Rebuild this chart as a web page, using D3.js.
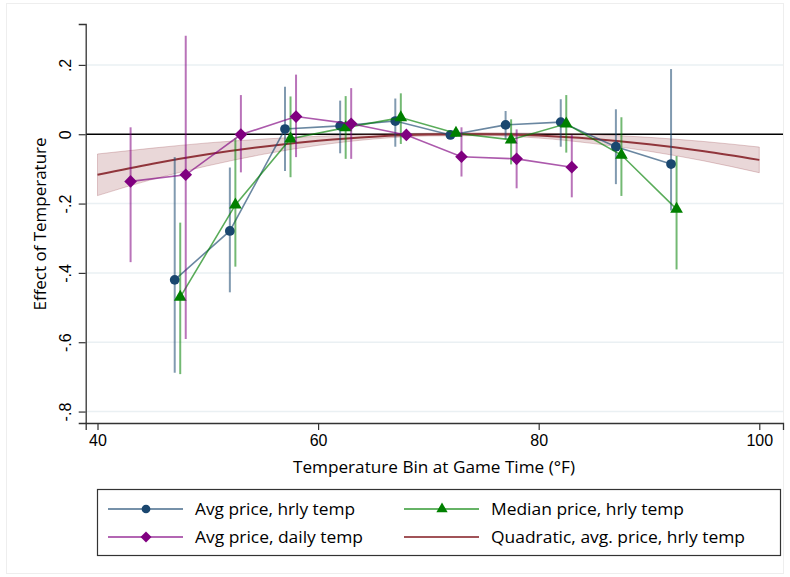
<!DOCTYPE html>
<html>
<head>
<meta charset="utf-8">
<script src="https://cdn.jsdelivr.net/npm/d3@7"></script>
<style>
  body { margin: 0; background: #fff; }
  svg { display: block; font-family: "Open Sans", Lato, sans-serif; }
</style>
</head>
<body>
<svg id="chart" width="790" height="577"></svg>
<script>
// temperature bins (deg F), each series is offset a little in x
const avgHrlyX = [47, 52, 57, 62, 67, 72, 77, 82, 87, 92];
const avgHrly = [-0.420, -0.279, 0.015, 0.024, 0.038, -0.002, 0.027, 0.035, -0.036, -0.086];
const avgHrlyLo = [-0.688, -0.456, -0.106, -0.055, -0.036, -0.012, -0.014, -0.036, -0.144, -0.220];
const avgHrlyHi = [-0.066, -0.096, 0.137, 0.097, 0.103, 0.008, 0.067, 0.101, 0.072, 0.188];

const medHrlyX = [47.5, 52.5, 57.5, 62.5, 67.5, 72.5, 77.5, 82.5, 87.5, 92.5];
const medHrly = [-0.470, -0.204, -0.013, 0.019, 0.048, 0.003, -0.016, 0.030, -0.060, -0.216];
const medHrlyLo = [-0.692, -0.382, -0.124, -0.071, -0.028, -0.007, -0.087, -0.053, -0.178, -0.390];
const medHrlyHi = [-0.255, -0.012, 0.109, 0.110, 0.118, 0.013, 0.043, 0.113, 0.049, -0.063];

const avgDailyX = [43, 48, 53, 58, 63, 68, 73, 78, 83];
const avgDaily = [-0.136, -0.117, -0.001, 0.051, 0.030, -0.002, -0.065, -0.071, -0.095];
const avgDailyLo = [-0.369, -0.591, -0.110, -0.066, -0.071, -0.010, -0.122, -0.156, -0.182];
const avgDailyHi = [0.020, 0.284, 0.113, 0.172, 0.133, 0.006, 0.020, 0.014, -0.002];

const quadX = [40, 45, 50, 55, 60, 65, 70, 75, 80, 85, 90, 95, 100];
const quadY = [-0.117, -0.085, -0.058, -0.036, -0.019, -0.007, -0.001, 0.000, -0.004, -0.014, -0.029, -0.049, -0.074];
const quadLo = [-0.177, -0.130, -0.091, -0.058, -0.032, -0.014, -0.005, -0.004, -0.011, -0.027, -0.049, -0.077, -0.111];
const quadHi = [-0.057, -0.040, -0.025, -0.014, -0.006, 0.000, 0.003, 0.004, 0.003, -0.001, -0.009, -0.021, -0.037];

const xTicks = [40, 60, 80, 100];
const yTicks = [0.2, 0, -0.2, -0.4, -0.6, -0.8];
const yTickLabels = [".2", "0", "-.2", "-.4", "-.6", "-.8"];

const svg = d3.select("#chart");

// faint outer frame
svg.append("rect")
  .attr("x", 6.5).attr("y", 3.5)
  .attr("width", 777).attr("height", 570)
  .attr("fill", "none").attr("stroke", "#eeeeee");

const x = d3.scaleLinear().domain([38.93, 102.15]).range([85.7, 783]);
const y = d3.scaleLinear().domain([-0.833, 0.318]).range([423, 24]);

// gridlines
svg.append("g")
  .selectAll("line")
  .data(yTicks.filter(d => d !== 0))
  .enter()
  .append("line")
  .attr("x1", 86).attr("x2", 783)
  .attr("y1", d => y(d)).attr("y2", d => y(d))
  .attr("stroke", "#eaf0f3").attr("stroke-width", 1.5);

// zero line
svg.append("line")
  .attr("x1", 86).attr("x2", 783)
  .attr("y1", y(0)).attr("y2", y(0))
  .attr("stroke", "#000").attr("stroke-width", 1.6);

// axes
const yAxis = svg.append("g")
  .attr("transform", "translate(85.7,0)")
  .call(d3.axisLeft(y).tickValues(yTicks).tickSize(7).tickFormat((d, i) => yTickLabels[i]));
yAxis.select(".domain").attr("stroke", "#333").attr("stroke-width", 1.3);
yAxis.selectAll(".tick line").attr("stroke", "#333").attr("stroke-width", 1.2);
yAxis.selectAll(".tick text")
  .attr("font-size", 16).attr("fill", "#000")
  .attr("transform", "rotate(-90)")
  .attr("x", 0).attr("y", -15)
  .attr("dy", 0)
  .style("text-anchor", "middle");

const xAxis = svg.append("g")
  .attr("transform", "translate(0,423)")
  .call(d3.axisBottom(x).tickValues(xTicks).tickSize(7).tickFormat(d3.format("d")));
xAxis.select(".domain").attr("stroke", "#333").attr("stroke-width", 1.3);
xAxis.selectAll(".tick line").attr("stroke", "#333").attr("stroke-width", 1.2);
xAxis.selectAll(".tick text").attr("font-size", 16).attr("fill", "#000").attr("y", 12);

// axis titles
svg.append("text")
  .attr("x", 434).attr("y", 473)
  .attr("text-anchor", "middle").attr("font-size", 16)
  .attr("textLength", 282).attr("lengthAdjust", "spacingAndGlyphs")
  .text("Temperature Bin at Game Time (°F)");
svg.append("text")
  .attr("transform", "translate(46,224) rotate(-90)")
  .attr("text-anchor", "middle").attr("font-size", 16)
  .attr("textLength", 173).attr("lengthAdjust", "spacingAndGlyphs")
  .text("Effect of Temperature");

// quadratic band + line
const quadData = quadX.map((d, i) => ({ x: d, y: quadY[i], lo: quadLo[i], hi: quadHi[i] }));
svg.append("path")
  .datum(quadData)
  .attr("d", d3.area().x(d => x(d.x)).y0(d => y(d.lo)).y1(d => y(d.hi)).curve(d3.curveMonotoneX))
  .attr("fill", "#90353b").attr("fill-opacity", 0.2)
  .attr("stroke", "#90353b").attr("stroke-opacity", 0.25);
svg.append("path")
  .datum(quadData)
  .attr("d", d3.line().x(d => x(d.x)).y(d => y(d.y)).curve(d3.curveMonotoneX))
  .attr("fill", "none").attr("stroke", "#90353b").attr("stroke-width", 2);

// square turned 45 degrees, as Stata draws its diamond
const diamond = {
  draw(ctx, size) {
    const r = Math.sqrt(size / 2);
    ctx.moveTo(0, -r); ctx.lineTo(r, 0); ctx.lineTo(0, r); ctx.lineTo(-r, 0); ctx.closePath();
  }
};

const series = [
  { xs: avgHrlyX, ys: avgHrly, lo: avgHrlyLo, hi: avgHrlyHi, color: "#1a476f", shape: d3.symbolCircle, size: 75 },
  { xs: medHrlyX, ys: medHrly, lo: medHrlyLo, hi: medHrlyHi, color: "#008000", shape: d3.symbolTriangle, size: 70 },
  { xs: avgDailyX, ys: avgDaily, lo: avgDailyLo, hi: avgDailyHi, color: "#800080", shape: diamond, size: 80 }
];

series.forEach(s => {
  const pts = s.xs.map((d, i) => ({ x: d, y: s.ys[i], lo: s.lo[i], hi: s.hi[i] }));
  const g = svg.append("g");
  g.selectAll("line.ci")
    .data(pts)
    .enter()
    .append("line")
    .attr("x1", d => x(d.x)).attr("x2", d => x(d.x))
    .attr("y1", d => y(d.lo)).attr("y2", d => y(d.hi))
    .attr("stroke", s.color).attr("stroke-opacity", 0.55).attr("stroke-width", 2);
  g.append("path")
    .datum(pts)
    .attr("d", d3.line().x(d => x(d.x)).y(d => y(d.y)))
    .attr("fill", "none").attr("stroke", s.color).attr("stroke-opacity", 0.65).attr("stroke-width", 1.6);
  g.selectAll("path.pt")
    .data(pts)
    .enter()
    .append("path")
    .attr("d", d3.symbol().type(s.shape).size(s.size))
    .attr("transform", d => "translate(" + x(d.x) + "," + y(d.y) + ")")
    .attr("fill", s.color);
});

// legend
const legend = svg.append("g");
legend.append("rect")
  .attr("x", 97.5).attr("y", 489.5).attr("width", 683).attr("height", 66)
  .attr("fill", "#fff").attr("stroke", "#333").attr("stroke-width", 1.2);

const legendItems = [
  { label: "Avg price, hrly temp", w: 160, color: "#1a476f", shape: d3.symbolCircle, size: 60, lx: 108, ly: 509 },
  { label: "Median price, hrly temp", w: 193, color: "#008000", shape: d3.symbolTriangle, size: 55, lx: 404, ly: 509 },
  { label: "Avg price, daily temp", w: 168, color: "#800080", shape: diamond, size: 60, lx: 108, ly: 537 },
  { label: "Quadratic, avg. price, hrly temp", w: 254, color: "#90353b", shape: null, lx: 404, ly: 537 }
];
legendItems.forEach(it => {
  legend.append("line")
    .attr("x1", it.lx).attr("x2", it.lx + 75)
    .attr("y1", it.ly).attr("y2", it.ly)
    .attr("stroke", it.color).attr("stroke-opacity", it.shape ? 0.6 : 0.85).attr("stroke-width", 2);
  if (it.shape) {
    legend.append("path")
      .attr("d", d3.symbol().type(it.shape).size(it.size))
      .attr("transform", "translate(" + (it.lx + 38) + "," + it.ly + ")")
      .attr("fill", it.color);
  }
  legend.append("text")
    .attr("x", it.lx + 87).attr("y", it.ly + 6)
    .attr("font-size", 16)
    .attr("textLength", it.w).attr("lengthAdjust", "spacingAndGlyphs")
    .text(it.label);
});
</script>
</body>
</html>
